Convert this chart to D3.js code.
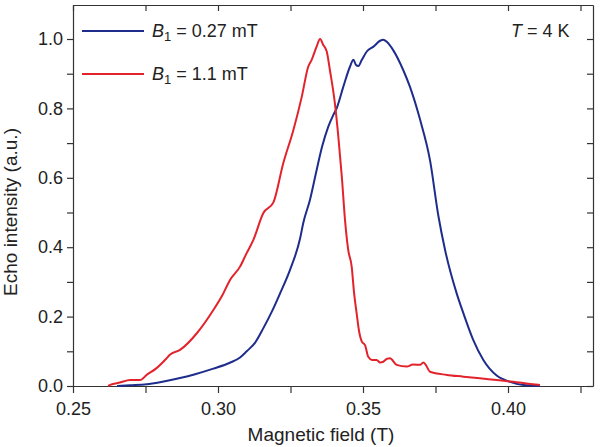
<!DOCTYPE html>
<html>
<head>
<meta charset="utf-8">
<script src="https://cdn.jsdelivr.net/npm/d3@7"></script>
<style>
  body { margin: 0; background: #fff; }
  svg { display: block; font-family: "Liberation Sans", Arial, sans-serif; }
  .axis path, .axis line { stroke: #333; stroke-width: 1.2; }
  .axis text { font-size: 18px; fill: #222; }
</style>
</head>
<body>
<div id="chart"></div>
<script>
// B1 = 0.27 mT
const fieldBlue = [0.2652, 0.2697, 0.2754, 0.2800, 0.2869, 0.2921, 0.2984, 0.3041, 0.3076, 0.3099,
  0.3128, 0.3156, 0.3186, 0.3214, 0.3248, 0.3283, 0.3294, 0.3317, 0.3340, 0.3359, 0.3380, 0.3397,
  0.3409, 0.3432, 0.3455, 0.3467, 0.3476, 0.3484, 0.3496, 0.3513, 0.3536, 0.3559, 0.3570, 0.3582,
  0.3604, 0.3639, 0.3662, 0.3697, 0.3731, 0.3760, 0.3783, 0.3823, 0.3846, 0.3880, 0.3915, 0.3961,
  0.4007, 0.4053, 0.4110];
const echoBlue = [0.000, 0.002, 0.005, 0.011, 0.023, 0.034, 0.050, 0.067, 0.082, 0.100,
  0.125, 0.166, 0.215, 0.267, 0.334, 0.425, 0.470, 0.536, 0.622, 0.690, 0.747, 0.780,
  0.800, 0.862, 0.920, 0.940, 0.925, 0.922, 0.940, 0.964, 0.978, 0.995, 0.998, 0.992,
  0.968, 0.910, 0.862, 0.767, 0.651, 0.490, 0.392, 0.267, 0.210, 0.133, 0.075, 0.030,
  0.012, 0.003, 0.000];

// B1 = 1.1 mT
const fieldRed = [0.2621, 0.2628, 0.2662, 0.2697, 0.2731, 0.2754, 0.2786, 0.2823, 0.2834, 0.2869,
  0.2927, 0.2984, 0.3014, 0.3041, 0.3076, 0.3097, 0.3122, 0.3156, 0.3191, 0.3225, 0.3260, 0.3289,
  0.3311, 0.3323, 0.3340, 0.3352, 0.3363, 0.3375, 0.3386, 0.3403, 0.3415, 0.3427, 0.3438, 0.3449,
  0.3461, 0.3469, 0.3478, 0.3486, 0.3496, 0.3507, 0.3518, 0.3531, 0.3547, 0.3559, 0.3570, 0.3582,
  0.3593, 0.3616, 0.3651, 0.3672, 0.3697, 0.3708, 0.3717, 0.3731, 0.3789, 0.3846, 0.3903, 0.3961,
  0.4018, 0.4076, 0.4110];
const echoRed = [0.000, 0.003, 0.010, 0.017, 0.017, 0.032, 0.050, 0.080, 0.090, 0.104,
  0.152, 0.219, 0.260, 0.305, 0.344, 0.380, 0.421, 0.498, 0.529, 0.642, 0.738, 0.834,
  0.920, 0.940, 0.978, 1.000, 0.983, 0.964, 0.910, 0.815, 0.718, 0.603, 0.478, 0.392,
  0.344, 0.270, 0.210, 0.160, 0.128, 0.118, 0.084, 0.075, 0.075, 0.068, 0.070, 0.078,
  0.080, 0.061, 0.056, 0.062, 0.061, 0.068, 0.060, 0.041, 0.032, 0.027, 0.022, 0.017,
  0.012, 0.006, 0.003];

const xMajor = [0.25, 0.30, 0.35, 0.40];
const xMinor = [0.275, 0.325, 0.375, 0.425];
const yTicks = [0.0, 0.1, 0.2, 0.3, 0.4, 0.5, 0.6, 0.7, 0.8, 0.9, 1.0];
const yLabels = [0.0, 0.2, 0.4, 0.6, 0.8, 1.0];

const W = 600, H = 447;
const margin = {top: 5, right: 7, bottom: 61, left: 73};
const width = W - margin.left - margin.right;
const height = H - margin.top - margin.bottom;

const svg = d3.select('#chart')
    .append('svg')
    .attr('width', W)
    .attr('height', H);

const g = svg.append('g')
    .attr('transform', `translate(${margin.left},${margin.top})`);

const x = d3.scaleLinear()
    .domain([0.25, 0.25 + width / 2900])
    .range([0, width]);

const y = d3.scaleLinear()
    .domain([0, 1.098])
    .range([height, 0]);

// bottom axis, ticks outward
g.append('g')
    .attr('class', 'axis')
    .attr('transform', `translate(0,${height})`)
    .call(d3.axisBottom(x).tickValues(xMajor.concat(xMinor)).tickSize(7).tickSizeOuter(0).tickPadding(9)
        .tickFormat(d => xMajor.includes(d) ? d3.format('.2f')(d) : ''));

// top axis, ticks inward
g.append('g')
    .attr('class', 'axis')
    .call(d3.axisTop(x).tickValues(xMajor.concat(xMinor)).tickSize(-6).tickSizeOuter(0).tickFormat(''));

// left axis
g.append('g')
    .attr('class', 'axis')
    .call(d3.axisLeft(y).tickValues(yTicks).tickSize(6).tickSizeOuter(0).tickPadding(4)
        .tickFormat(d => yLabels.some(v => Math.abs(v - d) < 1e-9) ? d3.format('.1f')(d) : ''));

// right axis, ticks inward
g.append('g')
    .attr('class', 'axis')
    .attr('transform', `translate(${width},0)`)
    .call(d3.axisRight(y).tickValues(yTicks).tickSize(-6).tickSizeOuter(0).tickFormat(''));

const line = d3.line()
    .curve(d3.curveMonotoneX)
    .x(d => x(d[0]))
    .y(d => y(d[1]));

const blue = '#1e2d8c';
const red = '#e3232b';

g.append('path')
    .datum(d3.zip(fieldBlue, echoBlue))
    .attr('fill', 'none')
    .attr('stroke', blue)
    .attr('stroke-width', 2)
    .attr('stroke-linejoin', 'round')
    .attr('d', line);

g.append('path')
    .datum(d3.zip(fieldRed, echoRed))
    .attr('fill', 'none')
    .attr('stroke', red)
    .attr('stroke-width', 2)
    .attr('stroke-linejoin', 'round')
    .attr('d', line);

// axis titles
svg.append('text')
    .attr('x', 321)
    .attr('y', 441)
    .attr('text-anchor', 'middle')
    .style('font-size', '19px')
    .style('fill', '#222')
    .text('Magnetic field (T)');

svg.append('text')
    .attr('transform', 'translate(17,212) rotate(-90)')
    .attr('text-anchor', 'middle')
    .style('font-size', '19px')
    .style('fill', '#222')
    .text('Echo intensity (a.u.)');

// legend
const legend = [
    {color: blue, value: '0.27', y: 31},
    {color: red, value: '1.1', y: 74}
];

legend.forEach(item => {
    svg.append('line')
        .attr('x1', 82).attr('x2', 144)
        .attr('y1', item.y).attr('y2', item.y)
        .attr('stroke', item.color)
        .attr('stroke-width', 2);

    const t = svg.append('text')
        .attr('x', 152)
        .attr('y', item.y + 6)
        .style('font-size', '18px')
        .style('fill', '#222');
    t.append('tspan').style('font-style', 'italic').text('B');
    t.append('tspan').attr('dy', 4).style('font-size', '13px').text('1');
    t.append('tspan').attr('dy', -4).text(` = ${item.value} mT`);
});

const tLabel = svg.append('text')
    .attr('x', 511)
    .attr('y', 37)
    .style('font-size', '18px')
    .style('fill', '#222');
tLabel.append('tspan').style('font-style', 'italic').text('T');
tLabel.append('tspan').text(' = 4 K');
</script>
</body>
</html>
